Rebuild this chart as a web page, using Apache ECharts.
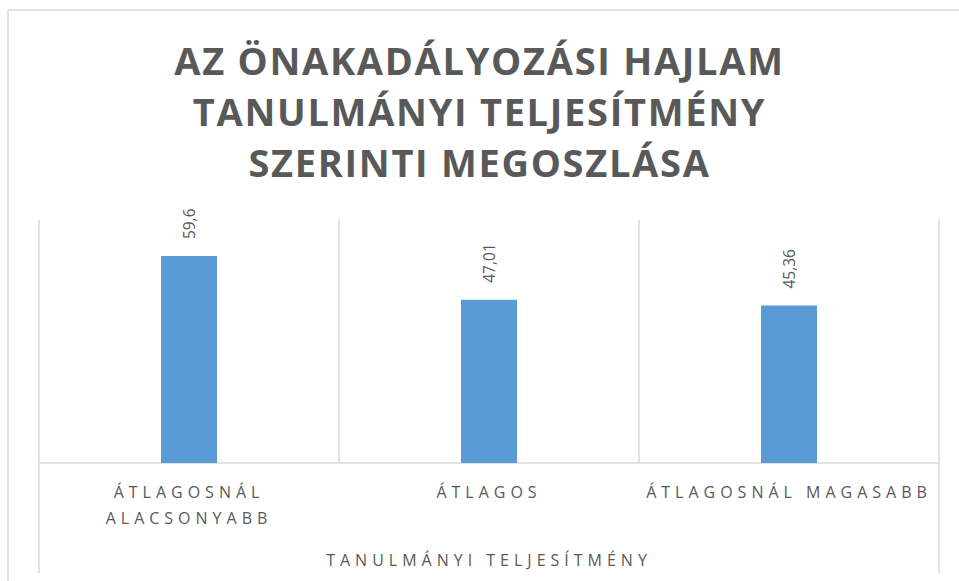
<!DOCTYPE html>
<html>
<head>
<meta charset="utf-8">
<script src="https://cdn.jsdelivr.net/npm/echarts@6/dist/echarts.min.js"></script>
<style>
  html, body { margin: 0; padding: 0; background: #fff; }
  #main { width: 959px; height: 581px; }
  /* Excel-szerű betűköz */
  #main svg text[style*="font-size: 16px"] { letter-spacing: 5px; }
  #main svg text[style*="font-size: 38px"] { letter-spacing: 1.7px; }
</style>
</head>
<body>
<div id="main"></div>
<script>
// adatok
var categories = ['ÁTLAGOSNÁL ALACSONYABB', 'ÁTLAGOS', 'ÁTLAGOSNÁL MAGASABB'];
var values = [59.6, 47.01, 45.36];
var titleText = 'AZ ÖNAKADÁLYOZÁSI HAJLAM\nTANULMÁNYI TELJESÍTMÉNY\nSZERINTI MEGOSZLÁSA';
var axisName = 'TANULMÁNYI TELJESÍTMÉNY';

var chart = echarts.init(document.getElementById('main'), null, { renderer: 'svg' });

var option = {
  backgroundColor: '#fff',
  animation: false,
  textStyle: { fontFamily: 'Open Sans' },
  title: {
    text: titleText,
    left: 'center',
    top: 34,
    padding: [0, 0, 0, 16],
    textStyle: {
      fontFamily: 'Open Sans',
      fontWeight: 'bold',
      fontSize: 38,
      lineHeight: 51,
      color: '#595959'
    }
  },
  graphic: [{
    type: 'rect',
    z: -10,
    shape: { x: 8, y: 10, width: 1000, height: 1000 },
    style: { fill: 'none', stroke: '#d9d9d9', lineWidth: 1.5 }
  }],
  grid: [
    { left: 39, right: 20, top: 220, bottom: 118 },
    { left: 39, right: 20, top: 463, bottom: 8 }
  ],
  xAxis: [{
    type: 'category',
    data: categories,
    gridIndex: 0,
    axisLine: { lineStyle: { color: '#d9d9d9', width: 1.5 } },
    axisTick: { show: false },
    splitLine: { show: true, lineStyle: { color: '#d9d9d9', width: 1.5 } },
    axisLabel: {
      margin: 16,
      fontSize: 16,
      lineHeight: 26,
      color: '#595959',
      formatter: function (v, i) { return i === 0 ? v.replace(' ', '\n') : v; }
    },
    name: axisName,
    nameLocation: 'middle',
    nameGap: 89,
    nameTextStyle: { fontSize: 16, color: '#595959' }
  }, {
    type: 'category',
    data: [''],
    gridIndex: 1,
    axisLine: { show: false },
    axisTick: { show: false },
    axisLabel: { show: false },
    splitLine: { show: true, lineStyle: { color: '#d9d9d9', width: 1.5 } }
  }],
  yAxis: [{
    type: 'value',
    gridIndex: 0,
    min: 0,
    max: 70,
    show: false
  }, {
    type: 'value',
    gridIndex: 1,
    show: false
  }],
  series: [{
    type: 'bar',
    data: values,
    barWidth: 56,
    itemStyle: { color: '#5b9bd5' },
    label: {
      show: true,
      position: 'top',
      rotate: 90,
      align: 'left',
      verticalAlign: 'middle',
      distance: 17,
      fontSize: 15.5,
      color: '#595959',
      formatter: function (p) { return String(p.value).replace('.', ','); }
    }
  }]
};

chart.setOption(option);
</script>
</body>
</html>
